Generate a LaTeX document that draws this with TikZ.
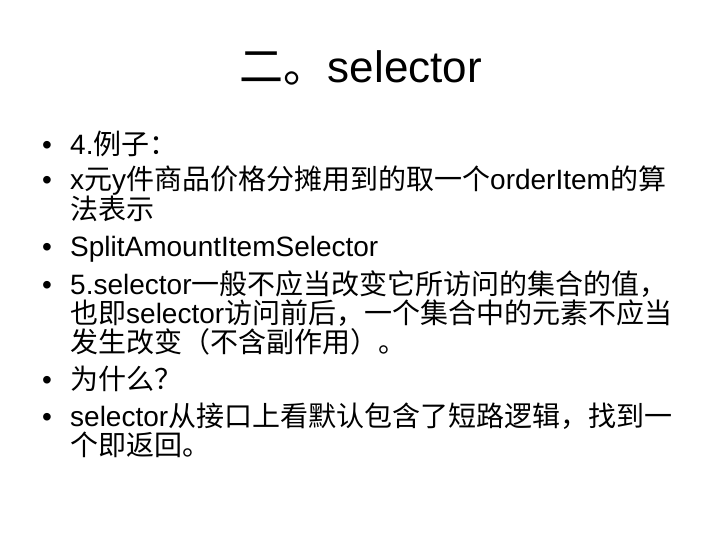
\documentclass[tikz,border=0pt]{standalone}
\usepackage{fontspec}
\setmainfont{Liberation Sans}
\newfontfamily\cjk{Noto Sans CJK SC}
\begin{document}
\begin{tikzpicture}[x=1pt,y=-1pt,
    line/.style={anchor=base west,inner sep=0pt,font=\fontsize{28}{30}\selectfont},
    bul/.style={anchor=base west,inner sep=0pt,font=\fontsize{28}{30}\selectfont}]
  \fill[white] (0,0) rectangle (720,540);
  \useasboundingbox (0,0) rectangle (720,540);
  \draw
    (361,83) node[anchor=base,inner sep=0pt,font=\fontsize{44}{50}\selectfont] (title){{\cjk 二。}selector};
  \draw
    (42,155) node[bul] (b1){•}
    (42,190) node[bul] (b2){•}
    (42,256) node[bul] (b3){•}
    (42,294) node[bul] (b4){•}
    (42,389) node[bul] (b5){•}
    (42,426) node[bul] (b6){•};
  \draw
    (70,155) node[line] (t1){4.{\cjk 例子：}}
    (70,190) node[line] (t2){x{\cjk 元}y{\cjk 件商品价格分摊用到的取一个}orderItem{\cjk 的算}}
    (70,219) node[line] (t3){\cjk 法表示}
    (70,256) node[line] (t4){SplitAmountItemSelector}
    (70,294) node[line] (t5){5.selector{\cjk 一般不应当改变它所访问的集合的值，}}
    (70,323) node[line] (t6){{\cjk 也即}selector{\cjk 访问前后，一个集合中的元素不应当}}
    (70,352) node[line] (t7){\cjk 发生改变（不含副作用）。}
    (70,389) node[line] (t8){\cjk 为什么？}
    (70,426) node[line] (t9){selector{\cjk 从接口上看默认包含了短路逻辑，找到一}}
    (70,455) node[line] (t10){\cjk 个即返回。};
\end{tikzpicture}
\end{document}
